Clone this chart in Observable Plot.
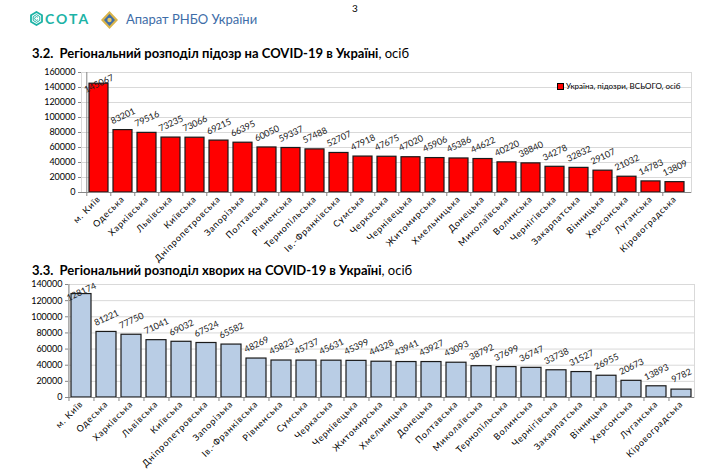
<!DOCTYPE html>
<html>
<head>
<meta charset="utf-8">
<script src="https://cdn.jsdelivr.net/npm/d3@7"></script>
<script src="https://cdn.jsdelivr.net/npm/@observablehq/plot@0.6"></script>
<style>
  html, body { margin: 0; padding: 0; background: #fff; }
  body { width: 717px; height: 475px; position: relative; overflow: hidden; font-family: Lato, "Open Sans", sans-serif; }
  .abs { position: absolute; }
  .title { font-size: 13px; font-weight: bold; color: #000; white-space: pre; }
  .title span { font-weight: normal; }
  svg.plot { background: transparent; }
  g[aria-label="x-axis tick label"] text { letter-spacing: 0.8px; }
</style>
</head>
<body>
<div id="chart1" class="abs" style="left:0;top:62px;"></div>
<div id="chart2" class="abs" style="left:0;top:272px;"></div>

<div class="abs" style="left:352px;top:2px;font-size:10px;">3</div>
<svg class="abs" style="left:30px;top:11px;" width="13" height="15" viewBox="0 0 13 15">
  <polygon points="6.5,1 12,4.2 12,10.8 6.5,14 1,10.8 1,4.2" fill="none" stroke="#1cb3a6" stroke-width="1.8"/>
  <polygon points="6.5,3.6 9.8,5.6 9.8,9.4 6.5,11.4 3.2,9.4 3.2,5.6" fill="none" stroke="#1cb3a6" stroke-width="1"/>
  <path d="M7.9,6.3 A1.8,1.8 0 1 0 7.9,8.7" fill="none" stroke="#1cb3a6" stroke-width="1"/>
</svg>
<div class="abs" style="left:45px;top:10px;font-size:14px;font-weight:bold;letter-spacing:2px;color:#1cb3a6;">СОТА</div>
<svg class="abs" style="left:101px;top:11px;" width="17" height="18" viewBox="0 0 17 18">
  <polygon points="8.5,0 17,9 8.5,18 0,9" fill="#d9b44a"/>
  <polygon points="8.5,3 14,9 8.5,15 3,9" fill="#3e6da8"/>
  <circle cx="8.5" cy="9" r="2.2" fill="#e8c860"/>
</svg>
<div class="abs" style="left:126px;top:11px;font-size:13px;color:#3e6da8;">Апарат РНБО України</div>

<div class="abs title" style="left:32px;top:45px;">3.2.  Регіональний розподіл підозр на COVID-19 в Україні<span>, осіб</span></div>
<div class="abs title" style="left:32px;top:262px;">3.3.  Регіональний розподіл хворих на COVID-19 в Україні<span>, осіб</span></div>

<div class="abs" style="left:557px;top:81px;font-size:8px;color:#000;display:flex;align-items:center;">
  <span style="display:inline-block;width:5px;height:5px;background:#ff0000;border:1px solid #000;margin-right:2px;"></span>Україна, підозри, ВСЬОГО, осіб
</div>

<script>
// ---- Data: 3.2 suspicions ----
const regions1 = ["м. Київ","Одеська","Харківська","Львівська","Київська","Дніпропетровська","Запорізька","Полтавська","Рівненська","Тернопільська","Ів.-Франківська","Сумська","Черкаська","Чернівецька","Житомирська","Хмельницька","Донецька","Миколаївська","Волинська","Чернігівська","Закарпатська","Вінницька","Херсонська","Луганська","Кіровоградська"];
const values1 = [145067,83201,79516,73235,73066,69215,66395,60050,59337,57488,52707,47918,47675,47020,45906,45386,44622,40220,38840,34278,32832,29107,21032,14783,13809];
const ticks1 = [0,20000,40000,60000,80000,100000,120000,140000,160000];

// ---- Data: 3.3 sick ----
const regions2 = ["м. Київ","Одеська","Харківська","Львівська","Київська","Дніпропетровська","Запорізька","Ів.-Франківська","Рівненська","Сумська","Черкаська","Чернівецька","Житомирська","Хмельницька","Донецька","Полтавська","Миколаївська","Тернопільська","Волинська","Чернігівська","Закарпатська","Вінницька","Херсонська","Луганська","Кіровоградська"];
const values2 = [128174,81221,77750,71041,69032,67524,65582,48269,45823,45737,45631,45399,44328,43941,43927,43093,38792,37699,36747,33738,31527,26955,20673,13893,9782];
const ticks2 = [0,20000,40000,60000,80000,100000,120000,140000];

function makeChart(regions, values, ticks, opts) {
  const data = regions.map((r, i) => ({region: r, value: values[i], i}));
  const width = 717;
  const step = (width - opts.marginLeft - opts.marginRight) / regions.length;
  return Plot.plot({
    width,
    height: opts.height,
    marginTop: opts.marginTop,
    marginBottom: opts.marginBottom,
    marginLeft: opts.marginLeft,
    marginRight: opts.marginRight,
    style: {fontFamily: "Lato, 'Open Sans', sans-serif", background: "transparent", color: "#000"},
    x: {domain: regions, paddingInner: opts.padding, paddingOuter: opts.padding / 2, label: null},
    y: {domain: [0, ticks[ticks.length - 1]], label: null},
    marks: [
      Plot.gridY(ticks, {stroke: "#d9d9d9", strokeOpacity: 1}),
      Plot.frame({stroke: "#d9d9d9"}),
      Plot.barY(data, {x: "region", y: "value", fill: opts.fill, stroke: "#1a1a1a", strokeWidth: 1.2}),
      Plot.axisY({ticks, tickSize: 3, tickPadding: 3, fontSize: 9, stroke: "#868686", tickFormat: d => String(d)}),
      Plot.ruleX([0], {x: () => regions[0], dx: -step / 2, stroke: "#868686"}),
      Plot.ruleY([0], {stroke: "#868686"}),
      Plot.axisX({tickSize: 4, stroke: "#868686", tickFormat: () => "", dx: -step / 2}),
      Plot.axisX({tickSize: 0, tickPadding: 5, tickRotate: -45, fontSize: 9}),
      Plot.text(data.filter(d => d.i > 0), {x: "region", y: "value", text: d => String(d.value), rotate: -25, dy: -14, fontSize: 9, fill: "#222"}),
      Plot.text(data.filter(d => d.i === 0), {x: "region", y: "value", text: d => String(d.value), rotate: -25, dy: opts.firstDy, fontSize: 9, fill: "#222"})
    ]
  });
}

document.getElementById("chart1").appendChild(makeChart(regions1, values1, ticks1, {
  height: 210, marginTop: 10, marginBottom: 80, marginLeft: 81, marginRight: 26,
  padding: 0.22, fill: "#ff0000", firstDy: 0
}));
document.getElementById("chart2").appendChild(makeChart(regions2, values2, ticks2, {
  height: 203, marginTop: 12, marginBottom: 78, marginLeft: 68, marginRight: 23,
  padding: 0.2, fill: "#b9cde5", firstDy: -2
}));
</script>
</body>
</html>
